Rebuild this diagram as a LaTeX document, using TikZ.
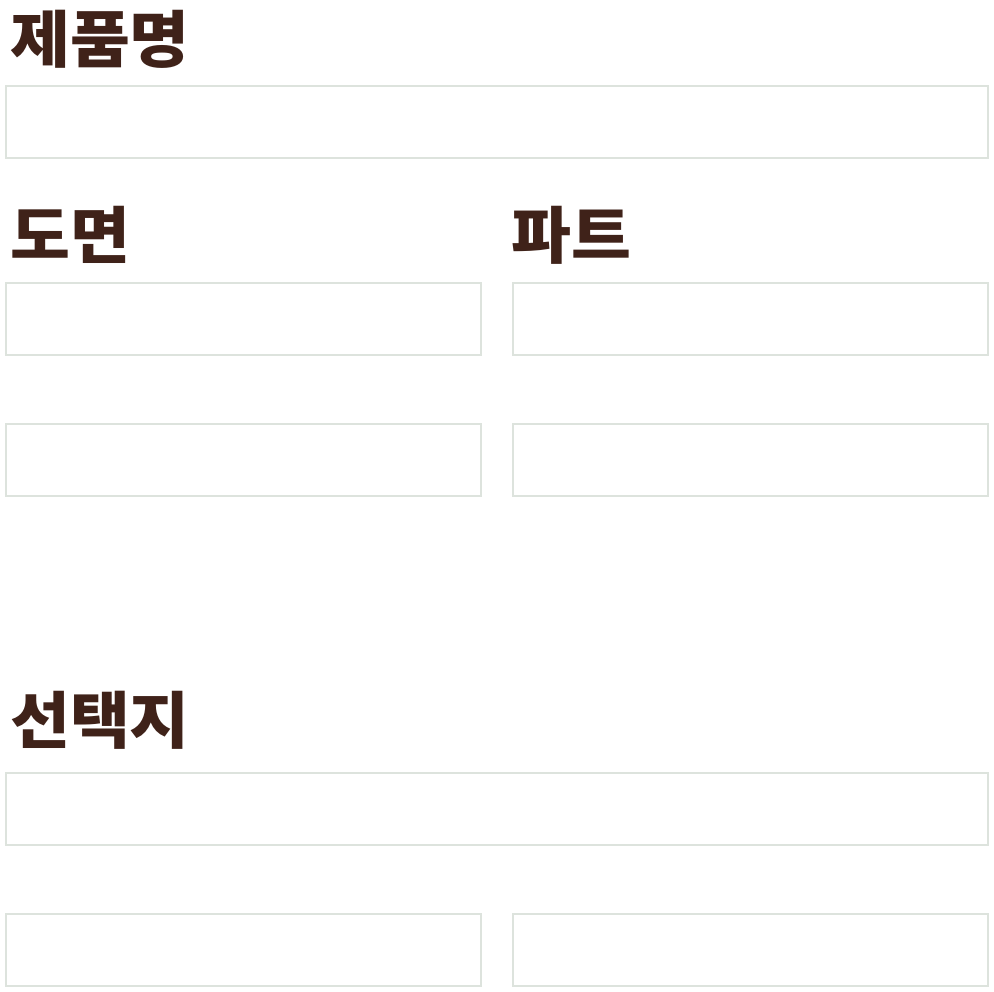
\documentclass[tikz,border=0pt]{standalone}
\usepackage{fontspec}
\newfontfamily\krfont{Noto Sans CJK KR}[BoldFont={* Black},BoldFeatures={FakeStretch=1.05}]
\usetikzlibrary{shadows}
\definecolor{titlebrown}{HTML}{3F2219}
\definecolor{boxline}{HTML}{DDE3DD}
\begin{document}
\begin{tikzpicture}[x=1pt,y=-1pt,
	heading/.style={anchor=north west,inner sep=0pt,text=titlebrown,font=\krfont\bfseries\fontsize{62}{62}\selectfont},
	field/.style={draw=boxline,line width=1.1pt,fill=white,drop shadow={shadow xshift=0.8pt,shadow yshift=-1pt,opacity=0.3,fill=black!35}}]
		\useasboundingbox[fill=white](0,0) rectangle (994,992);
		
		\node[heading] (name) at (10,10){제품명};
		\draw[field](6,86) rectangle (988,158);
		
		\node[heading] (drawing) at (10,206){도면};
		\node[heading] (part) at (511,206){파트};
		
		\draw[field](6,283) rectangle (481,355);
		\draw[field](513,283) rectangle (988,355);
		
		\draw[field](6,424) rectangle (481,496);
		\draw[field](513,424) rectangle (988,496);
		
		\node[heading] (choice) at (10,691){선택지};
		\draw[field](6,773) rectangle (988,845);
		
		\draw[field](6,914) rectangle (481,986);
		\draw[field](513,914) rectangle (988,986);
		
		\end{tikzpicture}
\end{document}
